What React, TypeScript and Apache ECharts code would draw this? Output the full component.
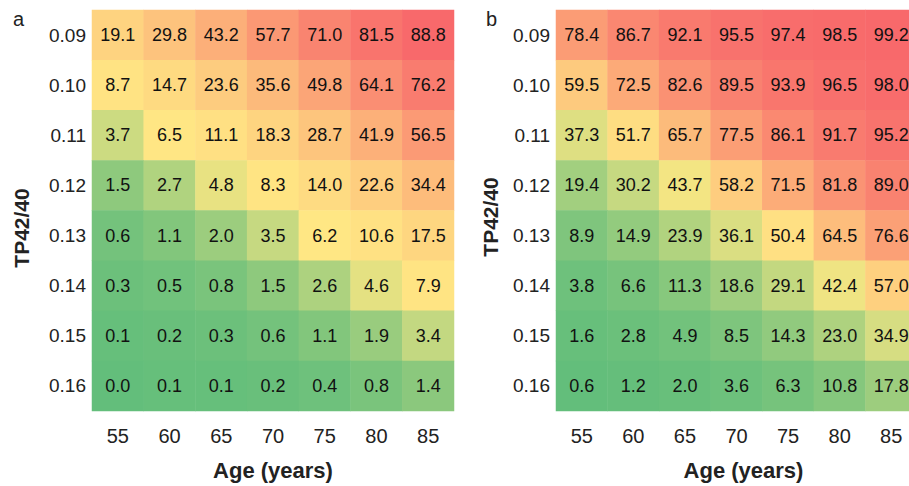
import React, { useEffect, useRef } from "react";
import * as echarts from "echarts";

const ages = ["55", "60", "65", "70", "75", "80", "85"];
const ratios = ["0.09", "0.10", "0.11", "0.12", "0.13", "0.14", "0.15", "0.16"];

const valuesA: number[][] = [
  [19.1, 29.8, 43.2, 57.7, 71.0, 81.5, 88.8],
  [8.7, 14.7, 23.6, 35.6, 49.8, 64.1, 76.2],
  [3.7, 6.5, 11.1, 18.3, 28.7, 41.9, 56.5],
  [1.5, 2.7, 4.8, 8.3, 14.0, 22.6, 34.4],
  [0.6, 1.1, 2.0, 3.5, 6.2, 10.6, 17.5],
  [0.3, 0.5, 0.8, 1.5, 2.6, 4.6, 7.9],
  [0.1, 0.2, 0.3, 0.6, 1.1, 1.9, 3.4],
  [0.0, 0.1, 0.1, 0.2, 0.4, 0.8, 1.4],
];

const valuesB: number[][] = [
  [78.4, 86.7, 92.1, 95.5, 97.4, 98.5, 99.2],
  [59.5, 72.5, 82.6, 89.5, 93.9, 96.5, 98.0],
  [37.3, 51.7, 65.7, 77.5, 86.1, 91.7, 95.2],
  [19.4, 30.2, 43.7, 58.2, 71.5, 81.8, 89.0],
  [8.9, 14.9, 23.9, 36.1, 50.4, 64.5, 76.6],
  [3.8, 6.6, 11.3, 18.6, 29.1, 42.4, 57.0],
  [1.6, 2.8, 4.9, 8.5, 14.3, 23.0, 34.9],
  [0.6, 1.2, 2.0, 3.6, 6.3, 10.8, 17.8],
];

const GREEN = [99, 190, 123];
const YELLOW = [255, 232, 132];
const RED = [248, 105, 107];

function toData(vals: number[][]) {
  const out: [number, number, number][] = [];
  vals.forEach((row, r) => row.forEach((v, c) => out.push([c, r, v])));
  return out;
}

function median(vals: number[][]) {
  const s = vals.flat().slice().sort((a, b) => a - b);
  const n = s.length;
  return n % 2 ? s[(n - 1) / 2] : (s[n / 2 - 1] + s[n / 2]) / 2;
}

function mix(a: number[], b: number[], t: number) {
  const c = a.map((x, i) => Math.round(x + (b[i] - x) * t));
  return `rgb(${c[0]},${c[1]},${c[2]})`;
}

function ramp(vals: number[][]) {
  const flat = vals.flat();
  const lo = Math.min(...flat);
  const hi = Math.max(...flat);
  const mid = median(vals);
  const n = 60;
  const colors: string[] = [];
  for (let i = 0; i <= n; i++) {
    const v = lo + ((hi - lo) * i) / n;
    if (v <= mid) colors.push(mix(GREEN, YELLOW, (v - lo) / (mid - lo)));
    else colors.push(mix(YELLOW, RED, (v - mid) / (hi - mid)));
  }
  return { lo, hi, colors };
}

const FONT = "'Liberation Sans', Arial, Helvetica, sans-serif";

export default function App() {
  const ref = useRef<HTMLDivElement>(null);
  useEffect(() => {
    if (!ref.current) return;
    const chart = echarts.init(ref.current, undefined, { renderer: "svg" });
    const rA = ramp(valuesA);
    const rB = ramp(valuesB);
    const grids = [
      { left: 92, top: 10, width: 362, height: 403 },
      { left: 556, top: 10, width: 361, height: 403 },
    ];
    const xAxis = [0, 1].map((i) => ({
      type: "category",
      gridIndex: i,
      data: ages,
      axisLine: { show: false },
      axisTick: { show: false },
      splitLine: { show: false },
      axisLabel: { fontSize: 20, color: "#222", margin: 15, fontFamily: FONT },
      name: "Age (years)",
      nameLocation: "middle",
      nameGap: 48,
      nameTextStyle: {
        fontSize: 22,
        fontWeight: "bold",
        color: "#222",
        fontFamily: FONT,
        padding: i === 1 ? [0, 0, 0, 14] : 0,
      },
    }));
    const yAxis = [0, 1].map((i) => ({
      type: "category",
      gridIndex: i,
      data: ratios,
      inverse: true,
      axisLine: { show: false },
      axisTick: { show: false },
      splitLine: { show: false },
      axisLabel: { fontSize: 19, color: "#222", margin: 6, fontFamily: FONT },
    }));
    const mkSeries = (i: number, vals: number[][]) => ({
      type: "heatmap",
      xAxisIndex: i,
      yAxisIndex: i,
      data: toData(vals),
      label: {
        show: true,
        fontSize: 18,
        color: "#111",
        fontFamily: FONT,
        formatter: (p: any) => p.value[2].toFixed(1),
      },
      itemStyle: { borderWidth: 0 },
      emphasis: { disabled: true },
    });
    chart.setOption({
      animation: false,
      grid: grids,
      xAxis,
      yAxis,
      visualMap: [
        {
          type: "continuous",
          show: false,
          seriesIndex: 0,
          dimension: 2,
          min: rA.lo,
          max: rA.hi,
          inRange: { color: rA.colors },
        },
        {
          type: "continuous",
          show: false,
          seriesIndex: 1,
          dimension: 2,
          min: rB.lo,
          max: rB.hi,
          inRange: { color: rB.colors },
        },
      ],
      series: [mkSeries(0, valuesA), mkSeries(1, valuesB)],
      graphic: [
        {
          type: "text",
          left: 13,
          top: 9,
          style: { text: "a", fontSize: 20, fill: "#222", fontFamily: FONT },
        },
        {
          type: "text",
          left: 486,
          top: 9,
          style: { text: "b", fontSize: 20, fill: "#222", fontFamily: FONT },
        },
        {
          type: "text",
          x: 21,
          y: 228,
          rotation: Math.PI / 2,
          style: {
            text: "TP42/40",
            fontSize: 21,
            fontWeight: "bold",
            fill: "#222",
            fontFamily: FONT,
            align: "center",
            verticalAlign: "middle",
          },
        },
        {
          type: "text",
          x: 490,
          y: 217,
          rotation: Math.PI / 2,
          style: {
            text: "TP42/40",
            fontSize: 21,
            fontWeight: "bold",
            fill: "#222",
            fontFamily: FONT,
            align: "center",
            verticalAlign: "middle",
          },
        },
      ],
    });
    return () => chart.dispose();
  }, []);
  return (
    <div
      style={{
        position: "fixed",
        left: 0,
        top: 0,
        width: 909,
        height: 486,
        overflow: "hidden",
        background: "#fff",
      }}
    >
      <div ref={ref} style={{ width: 930, height: 486 }} />
    </div>
  );
}
